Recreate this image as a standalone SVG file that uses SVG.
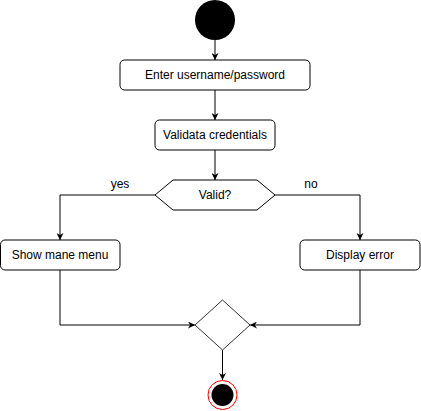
<svg xmlns="http://www.w3.org/2000/svg" width="421" height="411" viewBox="0 0 421 411">
<style>
.box{fill:#fff;stroke:#000;stroke-width:1}
.lbl{font-family:"Liberation Sans",Arial,sans-serif;font-size:12px;fill:#000;text-anchor:middle;dominant-baseline:central}
.edge{fill:none;stroke:#000;stroke-width:1}
</style>
<defs>
<marker id="arr" viewBox="0 0 10 10" refX="10" refY="5" markerWidth="7" markerHeight="7" markerUnits="userSpaceOnUse" orient="auto">
<path d="M0,0 L10,5 L0,10 L3,5 Z" fill="#000"/>
</marker>
</defs>
<rect width="421" height="411" fill="#fff"/>
<g id="connectors">
<path class="edge" d="M215,40 V60" marker-end="url(#arr)"/>
<path class="edge" d="M215,90 V120" marker-end="url(#arr)"/>
<path class="edge" d="M215,150 V180" marker-end="url(#arr)"/>
<path class="edge" d="M155,195 H60 V240" marker-end="url(#arr)"/>
<path class="edge" d="M275,195 H360 V240" marker-end="url(#arr)"/>
<path class="edge" d="M60,270 V325 H195" marker-end="url(#arr)"/>
<path class="edge" d="M360,270 V325 H250" marker-end="url(#arr)"/>
<path class="edge" d="M222.5,350 V380" marker-end="url(#arr)"/>
<text class="lbl" x="120" y="184">yes</text>
<text class="lbl" x="311" y="184">no</text>
</g>
<g id="start">
<circle cx="215" cy="20" r="20" fill="#000"/>
</g>
<g id="enter">
<rect class="box" x="120" y="60" width="190" height="30" rx="4.5"/>
<text class="lbl" x="215" y="75">Enter username/password</text>
</g>
<g id="validate">
<rect class="box" x="155" y="120" width="120" height="30" rx="4.5"/>
<text class="lbl" x="215" y="135">Validata credentials</text>
</g>
<g id="valid">
<polygon class="box" points="155,195 173,180 257,180 275,195 257,210 173,210"/>
<text class="lbl" x="215" y="195">Valid?</text>
</g>
<g id="menu">
<rect class="box" x="0.5" y="240" width="119.5" height="30" rx="4.5"/>
<text class="lbl" x="60" y="255">Show mane menu</text>
</g>
<g id="error">
<rect class="box" x="300" y="240" width="120" height="30" rx="4.5"/>
<text class="lbl" x="360" y="255">Display error</text>
</g>
<g id="merge">
<polygon points="222.5,300 250,325 222.5,350 195,325" fill="#fff" stroke="#333" stroke-width="1"/>
</g>
<g id="end">
<circle cx="222.5" cy="395" r="14.5" fill="#fff" stroke="#ff0000" stroke-width="1"/>
<circle cx="222.5" cy="395" r="11" fill="#000"/>
</g>
</svg>
